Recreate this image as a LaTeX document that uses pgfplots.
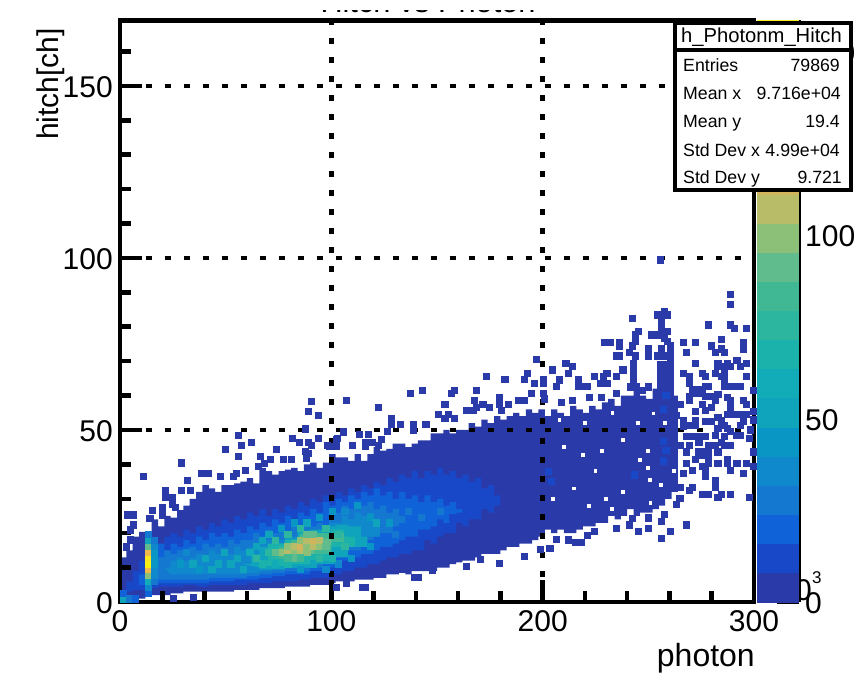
\documentclass[border=0pt]{standalone}
\usepackage{pgfplots}
\usepackage{fontspec}
\setmainfont{Liberation Sans}
\pgfplotsset{compat=1.18}
\definecolor{c0}{RGB}{42,58,168}
\definecolor{c1}{RGB}{24,72,200}
\definecolor{c2}{RGB}{16,98,216}
\definecolor{c3}{RGB}{20,120,208}
\definecolor{c4}{RGB}{16,136,204}
\definecolor{c5}{RGB}{10,150,196}
\definecolor{c6}{RGB}{16,164,188}
\definecolor{c7}{RGB}{18,172,184}
\definecolor{c8}{RGB}{28,178,172}
\definecolor{c9}{RGB}{44,182,160}
\definecolor{c10}{RGB}{64,184,148}
\definecolor{c11}{RGB}{96,188,140}
\definecolor{c12}{RGB}{140,191,120}
\definecolor{c13}{RGB}{184,187,104}
\definecolor{c14}{RGB}{210,180,92}
\definecolor{c15}{RGB}{240,186,72}
\definecolor{c16}{RGB}{248,200,56}
\definecolor{c17}{RGB}{248,215,40}
\definecolor{c18}{RGB}{248,230,30}
\definecolor{c19}{RGB}{248,240,20}
\newcommand{\bigf}{\fontsize{30}{30}\selectfont}
\begin{document}
\begin{tikzpicture}[x=1pt,y=1pt]
\path[use as bounding box] (0,0) rectangle (857,673);
% title, almost entirely cropped
\node[anchor=base,inner sep=0pt,font=\fontsize{30.7}{31}\selectfont] at (428,660) {Hitch vs Photon};
\fill[white] (0,663) rectangle (857,673);
% hidden exponent of the colour axis
\node[anchor=base east,inner sep=0pt,font=\bigf] at (812,73) {10};
\node[anchor=base west,inner sep=0pt,font=\fontsize{17}{17}\selectfont] at (812,90) {3};
% colour axis
\begin{axis}[
  at={(757pt,71pt)},anchor=south west,scale only axis,
  width=42pt,height=581.5pt,xmin=0,xmax=1,ymin=0,ymax=158.4,
  axis x line=none,axis y line*=right,axis line style={-,line width=4.5pt},
  ytick={0,50,100,150},minor tick num=0,
  tick style={black,line width=4.5pt},tickwidth=22pt,
  tick align=inside,
  /pgf/number format/assume math mode=true,
  tick label style={font=\bigf,inner sep=0pt},yticklabel style={xshift=6pt,yshift=-1.5pt},
  clip=true]
\addplot[fill=c0,draw=none] coordinates {(0,-2)(1,-2)(1,7.92)(0,7.92)};
\addplot[fill=c1,draw=none] coordinates {(0,7.92)(1,7.92)(1,15.84)(0,15.84)};
\addplot[fill=c2,draw=none] coordinates {(0,15.84)(1,15.84)(1,23.76)(0,23.76)};
\addplot[fill=c3,draw=none] coordinates {(0,23.76)(1,23.76)(1,31.68)(0,31.68)};
\addplot[fill=c4,draw=none] coordinates {(0,31.68)(1,31.68)(1,39.6)(0,39.6)};
\addplot[fill=c5,draw=none] coordinates {(0,39.6)(1,39.6)(1,47.52)(0,47.52)};
\addplot[fill=c6,draw=none] coordinates {(0,47.52)(1,47.52)(1,55.44)(0,55.44)};
\addplot[fill=c7,draw=none] coordinates {(0,55.44)(1,55.44)(1,63.36)(0,63.36)};
\addplot[fill=c8,draw=none] coordinates {(0,63.36)(1,63.36)(1,71.28)(0,71.28)};
\addplot[fill=c9,draw=none] coordinates {(0,71.28)(1,71.28)(1,79.2)(0,79.2)};
\addplot[fill=c10,draw=none] coordinates {(0,79.2)(1,79.2)(1,87.12)(0,87.12)};
\addplot[fill=c11,draw=none] coordinates {(0,87.12)(1,87.12)(1,95.04)(0,95.04)};
\addplot[fill=c12,draw=none] coordinates {(0,95.04)(1,95.04)(1,102.96)(0,102.96)};
\addplot[fill=c13,draw=none] coordinates {(0,102.96)(1,102.96)(1,110.88)(0,110.88)};
\addplot[fill=c14,draw=none] coordinates {(0,110.88)(1,110.88)(1,118.8)(0,118.8)};
\addplot[fill=c15,draw=none] coordinates {(0,118.8)(1,118.8)(1,126.72)(0,126.72)};
\addplot[fill=c16,draw=none] coordinates {(0,126.72)(1,126.72)(1,134.64)(0,134.64)};
\addplot[fill=c17,draw=none] coordinates {(0,134.64)(1,134.64)(1,142.56)(0,142.56)};
\addplot[fill=c18,draw=none] coordinates {(0,142.56)(1,142.56)(1,150.48)(0,150.48)};
\addplot[fill=c19,draw=none] coordinates {(0,150.48)(1,150.48)(1,158.4)(0,158.4)};
\end{axis}
% main axis
\begin{axis}[
  at={(120pt,71pt)},anchor=south west,scale only axis,
  width=634pt,height=581.5pt,
  xmin=0,xmax=300,ymin=0,ymax=169,
  xtick={0,100,200,300},ytick={0,50,100,150},
  minor xtick={20,40,60,80,120,140,160,180,220,240,260,280},
  minor ytick={10,20,30,40,60,70,80,90,110,120,130,140,160},
  axis on top,axis line style={line width=4.5pt},
  tick align=inside,tick style={black,line width=4.5pt},
  major tick length=22pt,minor tick length=11pt,
  xtick pos=bottom,ytick pos=left,
  grid=major,grid style={black,line width=4.5pt,dash pattern=on 6pt off 13pt,dash phase=12.5pt},
  /pgf/number format/assume math mode=true,
  tick label style={font=\bigf,inner sep=0pt},
  xticklabel style={yshift=-8pt},yticklabel style={xshift=-7pt,yshift=-1pt},
  colormap={bird}{rgb255=(42,58,168) rgb255=(24,72,200) rgb255=(16,98,216) rgb255=(20,120,208) rgb255=(16,136,204) rgb255=(10,150,196) rgb255=(16,164,188) rgb255=(18,172,184) rgb255=(28,178,172) rgb255=(44,182,160) rgb255=(64,184,148) rgb255=(96,188,140) rgb255=(140,191,120) rgb255=(184,187,104) rgb255=(210,180,92) rgb255=(240,186,72) rgb255=(248,200,56) rgb255=(248,215,40) rgb255=(248,230,30) rgb255=(248,240,20)},
  colormap access=piecewise constant,
  point meta min=0,point meta max=158.4]
% outer contour, stepped by bin
\addplot[const plot,fill=c0,draw=none] coordinates {(0,13)(3,15)(6,19)(9,20.4)(12,20.4)(15,24)(18,22)(21,25)(24,24.5)(27,26.7)(30,28)(33,30)(36,32)(39,34)(42,33)(45,32)(48,34)(51,34)(54,34.5)(57,35)(60,36)(63,34.5)(66,39)(69,38)(72,37)(75,38)(78,38.5)(81,39)(84,38)(87,40)(90,40.5)(93,39)(96,40.5)(99,43)(102,42)(105,42)(108,41)(111,43)(114,41)(117,43)(120,45)(123,44)(126,44.5)(129,46)(132,46)(135,45)(138,46)(141,47)(144,47)(147,49)(150,49)(153,50)(156,49)(159,50)(162,50)(165,52)(168,51)(171,53)(174,52)(177,54)(180,53)(183,54)(186,55)(189,54)(192,56)(195,55)(198,56)(201,54)(204,56)(207,55)(210,54)(213,57)(216,56)(219,55)(222,57)(225,56)(228,58)(231,59)(234,57)(237,60)(240,60)(243,62)(246,60)(249,59)(252,62)(255,66)(258,64)(261,60)(264,32)
(261,30)(258,28)(255,27)(252,26)(249,26)(246,25)(243,27)(240,25)(237,24)(234,25)(231,23)(228,23)(225,22)(222,22)(219,21)(216,20)(213,20)(210,21)(207,20)(204,21)(201,19)(198,18)(195,17)(192,17)(189,16)(186,16)(183,15)(180,14)(177,14)(174,14)(171,13)(168,12)(165,12)(162,11.5)(159,11)(156,10)(153,10)(150,9)(147,9)(144,9)(141,9)(138,8)(135,8.5)(132,8)(129,8)(126,7)(123,7)(120,6.5)(117,6.5)(114,6.5)(111,6)(108,6)(105,6)(102,5.5)(99,5)(96,5)(90,4.5)(84,4.5)(78,4)(72,4)(66,3.5)(60,3.5)(54,3)(48,3)(42,3)(36,3)(30,2.5)(24,2)(18,2)(12,1)(6,0.5)(0,0.5)} --cycle;
\addplot[fill=c0,draw=none] coordinates {(254,60)(254,70)(262,70)(262,60)} --cycle;
% inner contours, stepped by bin
\addplot[const plot,fill=c1,draw=none] coordinates {(3,6)(6,9)(9,12)(12,16)(15,18)(18,17)(21,19)(24,20)(27,19)(30,21)(33,20)(36,22)(39,21)(42,23)(45,22)(48,24)(51,23)(54,25)(57,24)(60,26)(63,25)(66,27)(69,25)(72,27)(75,26)(78,28)(81,27)(84,29)(87,28)(90,30)(93,29)(96,31)(99,30)(102,32)(105,31)(108,33)(111,32)(114,34)(117,33)(120,35)(123,34)(126,36)(129,35)(132,37)(135,36)(138,38)(141,36)(144,38)(147,37)(150,39)(153,37)(156,38)(159,36)(162,37)(165,35)(168,36)(171,33)(174,34)(177,31)(180,28)
(177,26)(174,27)(171,24)(168,24)(165,22)(162,23)(159,20)(156,20)(153,19)(150,17)(147,18)(144,15)(141,15)(138,14)(135,14)(132,13)(129,13)(126,12)(123,11)(120,11)(117,10)(114,10)(111,9)(108,9)(105,8)(102,8)(99,7)(96,7)(90,6.5)(84,6)(78,6)(72,5.5)(66,5.5)(60,5)(54,5)(48,5)(42,4.5)(36,5)(30,4.5)(24,4.5)(18,4)(12,3.5)(6,3)(3,3)} --cycle;
\addplot[const plot,fill=c2,draw=none] coordinates {(9,8)(12,12)(15,16)(18,17)(21,15)(24,17)(27,16)(30,18)(33,17)(36,19)(39,18)(42,20)(45,19)(48,20)(51,19)(54,21)(57,20)(60,22)(63,21)(66,23)(69,22)(72,24)(75,23)(78,25)(81,24)(84,26)(87,25)(90,27)(93,26)(96,29)(99,28)(102,30)(105,29)(108,31)(111,30)(114,32)(117,31)(120,33)(123,31)(126,32)(129,30)(132,32)(135,30)(138,31)(141,29)(144,31)(147,29)(150,30)(153,28)(156,29)(159,27)(162,26)
(159,25)(156,23)(153,24)(150,22)(147,21)(144,21)(141,19)(138,19)(135,18)(132,17)(129,16)(126,16)(123,15)(120,14)(117,14)(114,13)(111,12)(108,12)(105,11)(102,10)(99,9.5)(96,9)(90,8)(84,8)(78,7.5)(72,7)(66,6.5)(60,6.5)(54,6)(48,6)(42,5.5)(36,5.5)(30,5.5)(24,5.5)(18,5)(12,5)(9,6)} --cycle;
\addplot[const plot,fill=c3,draw=none] coordinates {(18,13)(21,15)(24,14)(27,15)(30,14)(33,16)(36,15)(39,17)(42,16)(45,17)(48,16)(51,18)(54,17)(57,18)(60,18)(63,20)(66,19)(69,21)(72,20)(75,21)(78,20)(81,22)(84,21)(87,23)(90,22)(93,23)(96,22)(99,25)(102,26)(105,28)(108,27)(111,29)(114,28)(117,29)(120,27)(123,28)(126,26)(129,27)(132,25)(135,23)
(132,22)(129,20)(126,20)(123,19)(120,18)(117,17)(114,15)(111,15)(108,14)(105,13)(102,12)(99,11)(96,10)(90,9)(84,9)(78,8.5)(72,8)(66,7.5)(60,7)(54,7)(48,7)(42,6.5)(36,6.5)(30,6.5)(24,6.5)(18,6.5)} --cycle;
\addplot[const plot,fill=c4,draw=none] coordinates {(21,10)(24,12)(27,13)(30,12)(33,13)(36,14)(39,13)(42,15)(45,14)(48,15)(51,14)(54,16)(57,15)(60,16)(63,17)(66,18)(69,18)(72,19)(75,18)(78,20)(81,19)(84,20)(87,21)(90,20)(93,21)(96,22)(99,23)(102,23)(105,25)(108,24)(111,26)(114,25)(117,26)(120,24)(123,19)
(120,19)(117,18)(114,17)(111,16)(108,15)(105,14)(102,13)(99,12)(96,11)(90,10)(84,10)(78,9.5)(72,9)(66,8.5)(60,8)(54,8)(48,8)(42,8)(36,8)(30,8)(24,8)} --cycle;
\addplot[const plot,fill=c6,draw=none] coordinates {(58,11)(62,14)(66,16)(72,17)(78,18.5)(84,20.5)(90,21)(96,22)(102,22.5)(108,22)(114,19)(117,16)(108,13)(102,11)(90,10)(78,9.5)(66,10)} --cycle;
\addplot[const plot,fill=c8,draw=none] coordinates {(64,12)(70,17)(78,18)(85,20)(92,20)(100,21)(106,19)(111,16)(100,12)(90,11)(80,10.5)(68,11)} --cycle;
\addplot[const plot,fill=c10,draw=none] coordinates {(70,13)(75,16)(81,18)(85,19.5)(91,20)(98,20)(106,17.5)(100,14)(85,12)} --cycle;
\addplot[const plot,fill=c11,draw=none] coordinates {(75,14)(80,16)(88,18.5)(97,18.5)(100,16.5)(92,14)(82,13)} --cycle;
% bins of individual colour
\addplot[scatter,only marks,mark=square*,mark size=3.1pt,scatter src=explicit,
  scatter/use mapped color={draw=mapped color,fill=mapped color},mark options={line width=0pt}]
  table[meta=z] {
x y z
34.5 11.05 48
40.5 12.75 55
43.5 9.35 48
37.5 9.35 40
46.5 11.05 55
49.5 14.45 48
52.5 11.05 48
28.5 11.05 44
31.5 14.45 36
25.5 9.35 36
55.5 12.75 52
58.5 9.35 48
61.5 14.45 60
64.5 16.15 50
67.5 17.85 50
70.5 19.55 48
76.5 21.25 40
82.5 22.95 40
88.5 22.95 48
94.5 24.65 44
100.5 26.35 40
106.5 26.35 36
112.5 28.05 40
118.5 24.65 44
121.5 22.95 52
127.5 22.95 40
130.5 19.55 30
136.5 26.35 28
142.5 24.65 28
148.5 28.05 20
151.5 26.35 24
157.5 24.65 14
118.5 16.15 40
109.5 12.75 40
103.5 11.05 32
97.5 9.35 36
91.5 11.05 55
85.5 9.35 40
79.5 11.05 68
73.5 11.05 60
67.5 11.05 68
64.5 12.75 72
70.5 14.45 76
73.5 17.85 72
79.5 19.55 76
85.5 21.25 72
97.5 21.25 72
103.5 19.55 76
106.5 16.15 72
109.5 17.85 64
100.5 12.75 64
94.5 12.75 76
258.4 60 14
257 56 14
257 46.6 14
258.4 44 14
257 41 14
204.3 35 14
202.7 37.9 14
243.3 36.9 14
76.5 14.5 96
79.5 14.5 104
82.5 14.5 100
85.5 14.5 108
88.5 14.5 100
79.5 16.2 96
82.5 16.2 108
85.5 16.2 112
88.5 16.2 100
91.5 16.2 104
94.5 16.2 96
85.5 17.9 100
88.5 17.9 108
91.5 17.9 112
94.5 17.9 104
97.5 16.2 90
73.5 14.5 90
82.5 12.8 88
79.5 12.8 84
88.5 19.6 90
91.5 19.6 92
85.5 12.8 80
13.5 2.55 20
13.5 4.25 36
13.5 5.95 56
13.5 7.65 96
13.5 9.35 125
13.5 11.05 155
13.5 12.75 150
13.5 14.45 120
13.5 16.15 90
13.5 17.85 55
13.5 19.55 26
16.5 5.95 24
16.5 7.65 32
16.5 9.35 36
16.5 11.05 40
16.5 12.75 44
16.5 14.45 40
16.5 16.15 36
16.5 17.85 28
1.5 0.85 48
1.5 2.55 20
4.5 0.85 24
7.5 0.85 16
};
% empty bins inside the sparse part
\addplot[only marks,mark=square*,mark size=1.4pt,color=white,mark options={line width=0pt}] coordinates {
(219,42.7)(250.9,35.4)(252.4,54.8)(250,44)(251,28.7)(241.4,25.8)(232.7,27)(246,41.3)(238,47)(225,38)(210,45)(205,30)(215,33)(230,30)(245,52)(233,55)(220,52)(208,53)(238,32)(250,39)(256,34)(258,52)(262,38)(222,28)(228,44)
};
% sparse bins, one entry each
\addplot[only marks,mark=square*,mark size=3.1pt,color=c0,mark options={line width=0pt}] coordinates {
(255.9,99.4)(289,89.4)(289,86.5)(257.5,84.5)(254.5,83.4)(259.1,83.4)(256.1,82.4)(242.5,82.4)(256.1,80.5)(256.1,78.6)
(278.5,80.5)(289,80.5)(290.6,79.5)(296.6,79.5)(245.5,78.6)(244.1,77.6)(251.5,77.6)(254.5,77.6)(257.5,78.6)(259.1,78.6)
(257.5,76.6)(259.1,75.7)(260.5,74.4)(284.5,76.4)(244.1,75.7)(242.5,74.4)(241.1,72.6)(229.1,75.5)(232,75.5)(236.5,75.5)
(236.5,74.4)(266.5,75.5)(272.5,75.5)(280,74.4)(295,75.5)(295,73.5)(284.5,73.5)(286,72.6)(281.6,72.6)(268,72.6)
(250.1,73.5)(250.1,71.5)(256.1,73.5)(235,71.5)(236.5,71.5)(244.1,71.5)(254.5,71.5)(257.5,71.5)(260.5,72.5)(260.5,70.5)
(292,70.3)(272.5,69.4)(283,69.4)(287.5,69.4)(296.6,69.4)(293.6,68.4)(211,69.4)(214,68.4)(204.8,67.4)(212.4,66.4)
(238,67.4)(243.1,69.4)(243.1,67.4)(243.1,65.5)(283,68.4)(286,68.4)(289,68.4)(275.5,66.4)(281.6,66.4)(286,66.4)
(224.5,65.5)(230.4,66.4)(228.8,65.5)(234.9,65.5)(217,64.5)(208,64.5)(200.4,64.5)(266.5,66.4)(269.5,65.5)(277,65.5)
(284.5,65.5)(286,64.5)(296.6,65.5)(227.2,63.5)(230.4,63.5)(206.4,62.6)(217,62.6)(220,62.6)(221.4,62.6)(286,62.6)
(289,62.6)(290.6,62.6)(293.6,62.6)(299.6,61.4)(277,62.6)(278.5,62.6)(269.5,63.5)(271,61.6)(274,61.6)(275.6,61.6)
(275.5,60.6)(283,60.4)(287.5,59.5)(269.5,59.7)(272.5,60.6)(281.6,58.7)(277,59.7)(280,59.7)(295,58.5)(296.6,57.4)
(289,58.5)(289,56.6)(265,57.4)(269.5,58.5)(275.5,57.4)(280,56.6)(277,55.6)(272.5,55.4)(299.6,55.3)(299.6,52.9)
(283,53.6)(287.5,54.5)(290.6,54.5)(293.6,54.5)(296.6,54.5)(263.5,54.3)(266.5,52.6)(266.5,50.9)(272.5,52.6)(277,52.4)
(280,52.4)(284.5,52.6)(269.5,51.4)(272.5,51.4)(286,51.4)(293.6,51.4)(295,52.4)(283,50.4)(287.5,50.4)(289,49.5)
(268,48)(271,48)(274,48)(277,48)(281.6,48.5)(286,48)(292,48.5)(293.6,48.5)(298,47.5)(298.5,50)
(274,46.3)(278.6,45.4)(281.6,45.4)(284.5,46.3)(286,45.4)(289,45.4)(265,45.4)(269.5,45.4)(283,43.6)(299.6,43.6)
(268,43.6)(274,43.6)(277,43.6)(278.6,43.6)(275.6,42.7)(278.6,41.7)(272.5,41.3)(268,40.3)(278.6,40.3)(283,40.3)
(287.5,41.3)(287.5,40.3)(292,40.3)(296.6,40.3)(299.6,39.3)(266.7,37.4)(271,38.3)(275.6,39.3)(277,38.3)(277,36.4)
(289,38.3)(295,37.4)(281.6,35.4)(281.6,33.3)(265,33.3)(269.5,32.3)(271,33.3)(275.5,31.3)(278.5,31.3)(284.5,31.3)
(289,31.3)(283,30.3)(298,30.3)(265,30.1)(263.5,28.3)(257.5,25.4)(256.1,23.3)(268,22.4)(260.5,20.4)(256.1,18.5)
(250,24.4)(250,21.4)(245.5,20.4)(242.5,24.3)(235,21.4)(241,22.4)(224.4,20.4)(221.4,19.4)(218.5,17.2)(215.4,17.2)
(212.4,18)(206.7,18.2)(203.5,15.6)
(241.5,62.5)(244.5,62.5)(243,64)(247,61.5)(250,62.5)(235,60.5)(228,59.5)(222,59.5)(214,58.5)(209,58)(201,59)
(197.2,70.4)(192.8,66.5)(191.4,64.6)(173.3,65.5)(182.2,64.6)(196,63.6)(200.4,63.6)(194.6,60.7)(200.4,60.7)
(137.3,60.5)(143.3,61.5)(156.8,60.5)(158.3,61.5)(168.8,61.5)(179.4,59.4)(107.3,58.5)(122.3,56.5)(167.6,58.5)(168.8,56.5)
(153.8,57.5)(171.8,57.5)(179.4,57.5)(183.8,57.5)(188.6,58.5)(191.4,58.5)(174.8,56.5)(164.1,55.6)(167.3,55.6)(180.7,55.6)
(150.8,54.6)(155.4,54.6)(128.3,53.4)(153.8,53.4)(158.3,53.4)(128.3,51.5)(132.7,51.5)(138.9,51.5)(144.8,51.5)
(105.7,49.6)(113.3,48.6)(117.7,48.6)(126.7,49.6)(138.9,50)(123.7,47.3)(116.3,46.4)(119.4,46.4)(102.6,47.3)(110.1,45.4)
(102.6,45.2)(99.4,45.2)(116.3,45.2)(122.4,45.4)(170.4,12.3)(179.4,11.3)(191.4,13.2)(116.3,4.3)(114.7,4.3)(102.6,4.3)
(107.3,5.3)(141,7.2)(139.5,7.2)(164.1,10.3)(147.7,9.3)(198.8,15.2)
(90.8,58.2)(89.2,55.3)(93.8,54.3)(56.2,48.5)(62.2,46.4)(57.6,45.4)(50,44.4)(56.2,42.4)(74.2,44.4)(87.6,50.3)
(81.8,47.5)(84.8,46.4)(89.2,46.4)(93.8,47.5)(102.9,47.5)(105.8,49.4)(90.8,45.4)(87.6,43.7)(89.2,43.2)(98.3,45.4)
(102.6,45.4)(29.1,40.4)(11.1,36.4)(66.6,42.4)(71.4,41.3)(77.4,41.3)(81.3,41.3)(88.4,41.7)(65.5,39.3)(68.2,40.3)
(38.4,37.4)(41.9,37.4)(55.3,37.4)(59.2,38.3)(32.1,35.4)(47.4,36.4)(53.7,36.4)(21.5,32.5)(29.2,32.5)(33.2,32.5)
(21.5,30.3)(24.7,30.3)(24.7,28.5)(26.2,27.5)(20.2,27.5)(15.5,26.5)(3.7,25.3)(6.3,25.3)(6.3,22.4)(4.8,20.9)
(14.2,24.3)(20.2,25.3)(3.2,16)(4.8,18)(34.8,1.3)(25.3,1)
};
\end{axis}
% axis titles
\node[anchor=base east,inner sep=0pt,font=\fontsize{32}{32}\selectfont] at (755,7) {photon};
\node[rotate=90,anchor=base east,inner sep=0pt,font=\fontsize{30}{30}\selectfont] at (58,645) {hitch[ch]};
% statistics box
\draw[line width=4pt,fill=white] (675,483) rectangle (851,650);
\draw[line width=4pt] (675,623) -- (851,623);
\node[anchor=base west,inner sep=0pt,font=\fontsize{20.2}{20}\selectfont] at (681,630) {h\_Photonm\_Hitch};
\begin{scope}[every node/.style={inner sep=0pt,font=\fontsize{17.7}{18}\selectfont}]
\node[anchor=base west] at (683,601) {Entries};\node[anchor=base east] at (840,601) {79869};
\node[anchor=base west] at (683,573) {Mean x};\node[anchor=base east] at (841,573) {9.716e+04};
\node[anchor=base west] at (683,545) {Mean y};\node[anchor=base east] at (840,545) {19.4};
\node[anchor=base west] at (683,516) {Std Dev x};\node[anchor=base east] at (840,516) {4.99e+04};
\node[anchor=base west] at (683,489) {Std Dev y};\node[anchor=base east] at (842,489) {9.721};
\end{scope}
\end{tikzpicture}
\end{document}
